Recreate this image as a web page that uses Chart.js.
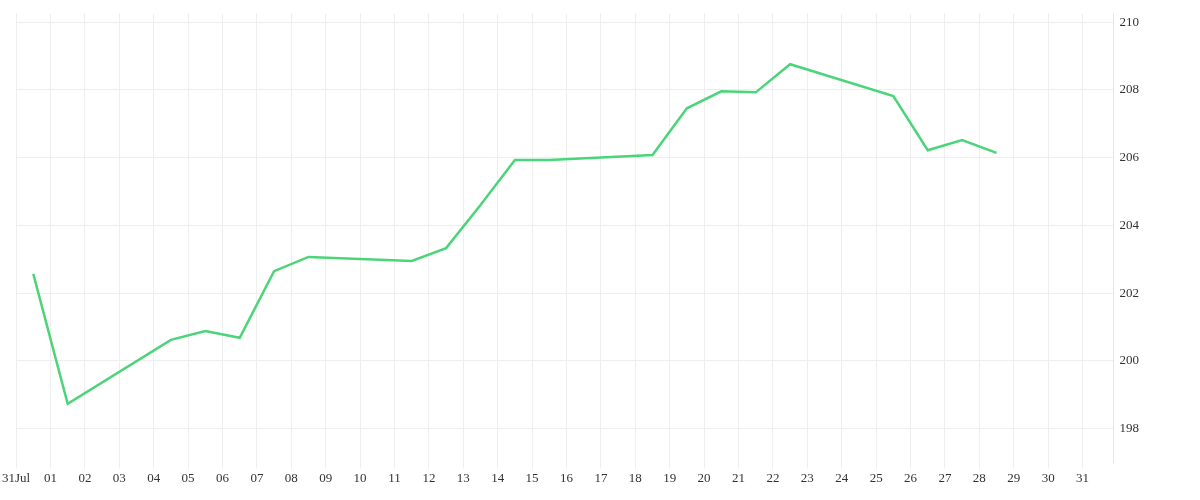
<!DOCTYPE html>
<html>
<head>
<meta charset="utf-8">
<script src="https://cdn.jsdelivr.net/npm/chart.js@4"></script>
<style>
  html, body { margin: 0; padding: 0; background: #fff; }
  #wrap { width: 1200px; height: 500px; }
</style>
</head>
<body>
<div id="wrap"><canvas id="chart"></canvas></div>
<script>
// day offsets from 31 Jul (0.5 = midday)
const days = [0.5, 1.5, 4.5, 5.5, 6.5, 7.5, 8.5, 11.5, 12.5, 13.5, 14.5, 15.5, 18.5, 19.5, 20.5, 21.5, 22.5, 25.5, 26.5, 27.5, 28.5];
const prices = [202.57, 198.73, 200.62, 200.88, 200.68, 202.65, 203.07, 202.95, 203.33, 204.6, 205.93, 205.93, 206.08, 207.46, 207.96, 207.93, 208.76, 207.82, 206.22, 206.52, 206.14];
const dayLabels = ['31Jul', '01', '02', '03', '04', '05', '06', '07', '08', '09', '10', '11', '12', '13', '14', '15', '16', '17', '18', '19', '20', '21', '22', '23', '24', '25', '26', '27', '28', '29', '30', '31'];
const priceTicks = [198, 200, 202, 204, 206, 208, 210];

const font = { family: 'Liberation Serif', size: 13 };

new Chart(document.getElementById('chart'), {
  type: 'line',
  data: {
    datasets: [{
      data: days.map((d, i) => ({ x: d, y: prices[i] })),
      borderColor: '#4cd47a',
      borderWidth: 2.5,
      pointRadius: 0,
      tension: 0,
      fill: false
    }]
  },
  options: {
    responsive: true,
    maintainAspectRatio: false,
    animation: false,
    layout: { padding: { left: 15, right: 55, top: 12, bottom: 12 } },
    plugins: { legend: { display: false }, tooltip: { enabled: false } },
    scales: {
      x: {
        type: 'linear',
        min: 0,
        max: 31.9,
        afterBuildTicks: axis => { axis.ticks = dayLabels.map((l, i) => ({ value: i })); },
        ticks: {
          autoSkip: false,
          maxRotation: 0,
          color: '#333',
          font: font,
          padding: 2,
          callback: v => dayLabels[v] !== undefined ? dayLabels[v] : ''
        },
        grid: { color: '#eeeeee', drawTicks: true, tickLength: 6 },
        border: { display: false }
      },
      y: {
        position: 'right',
        min: 197,
        max: 210.25,
        afterBuildTicks: axis => { axis.ticks = priceTicks.map(v => ({ value: v })); },
        ticks: { color: '#333', font: font, padding: 6 },
        grid: { color: '#eeeeee', tickLength: 0 },
        border: { display: true, color: '#e6e6e6' }
      }
    }
  }
});
</script>
</body>
</html>
